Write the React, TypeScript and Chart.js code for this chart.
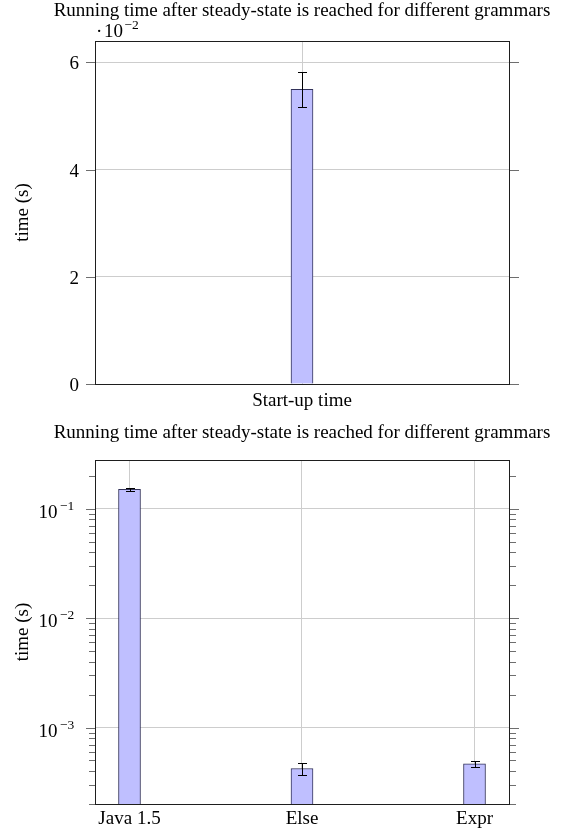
import React, { useEffect, useRef } from 'react';
import { Chart, registerables } from 'chart.js';

Chart.register(...registerables);

// ---------- text ----------
const TITLE = 'Running time after steady-state is reached for different grammars';
const Y_TITLE = 'time (s)';

// ---------- top chart: start-up time ----------
const startupCategories = ['Start-up time'];
const startupValues = [0.055];
const startupErrors = [0.0033];
const startupTicks = [0, 0.02, 0.04, 0.06];
const startupTickLabels = ['0', '2', '4', '6'];
const startupScaleBase = '10';
const startupScaleExp = '\u22122';
const startupYMin = 0;
const startupYMax = 0.064;

// ---------- bottom chart: steady-state per grammar ----------
const grammarCategories = ['Java 1.5', 'Else', 'Expr'];
const grammarValues = [0.151, 0.000422, 0.000466];
const grammarErrors = [0.004, 0.000055, 0.000031];
const grammarMajorTicks = [0.1, 0.01, 0.001];
const grammarTickExponents = ['\u22121', '\u22122', '\u22123'];
const grammarYMin = 0.0002;
const grammarYMax = 0.28;
const grammarXMin = -0.2;
const grammarXMax = 2.2;

// ---------- styles ----------
const FONT = '"Liberation Serif", "Times New Roman", serif';
const BAR_FILL = 'rgb(191,191,255)';
const BAR_BORDER = 'rgb(50,50,90)';
const GRID = 'rgb(205,205,205)';
const AXIS = 'rgb(30,30,30)';
const TICK = 'rgb(110,110,110)';

const px = (v: number) => Math.round(v) + 0.5;

function logMinorTicks(min: number, max: number): number[] {
  const out: number[] = [];
  for (let e = -5; e <= 1; e++) {
    for (let m = 1; m <= 9; m++) {
      const v = m * Math.pow(10, e);
      if (v >= min * 0.9999 && v <= max * 1.0001) out.push(v);
    }
  }
  return out;
}

const isDecade = (v: number) => Math.abs(Math.log10(v) - Math.round(Math.log10(v))) < 1e-9;

function drawFrame(chart: any) {
  const { ctx, chartArea: a } = chart;
  ctx.save();
  ctx.strokeStyle = AXIS;
  ctx.lineWidth = 1;
  const l = Math.round(a.left), r = Math.round(a.right), t = Math.round(a.top), b = Math.round(a.bottom);
  ctx.strokeRect(l + 0.5, t + 0.5, r - l, b - t);
  ctx.restore();
}

function drawYTicks(chart: any, lenFor: (v: number) => number) {
  const { ctx, chartArea: a } = chart;
  const ys = chart.scales.y;
  const l = Math.round(a.left), r = Math.round(a.right) + 1;
  ctx.save();
  ctx.strokeStyle = TICK;
  ctx.lineWidth = 1;
  ctx.beginPath();
  ys.ticks.forEach((t: any) => {
    const y = px(ys.getPixelForValue(t.value));
    const L = lenFor(t.value);
    ctx.moveTo(l - L, y);
    ctx.lineTo(l, y);
    ctx.moveTo(r, y);
    ctx.lineTo(r + L, y);
  });
  ctx.stroke();
  ctx.restore();
}

function drawErrorBars(chart: any, values: number[], errors: number[]) {
  const { ctx } = chart;
  const ys = chart.scales.y;
  const meta = chart.getDatasetMeta(0);
  ctx.save();
  ctx.strokeStyle = '#000';
  ctx.lineWidth = 1;
  ctx.beginPath();
  meta.data.forEach((bar: any, i: number) => {
    const x = px(bar.x);
    const yt = px(ys.getPixelForValue(values[i] + errors[i]));
    const yb = px(ys.getPixelForValue(values[i] - errors[i]));
    ctx.moveTo(x, yt);
    ctx.lineTo(x, yb);
    ctx.moveTo(x - 4.5, yt);
    ctx.lineTo(x + 4.5, yt);
    ctx.moveTo(x - 4.5, yb);
    ctx.lineTo(x + 4.5, yb);
  });
  ctx.stroke();
  ctx.restore();
}

function drawCommonText(chart: any, titleY: number, xLabelY: number, labels: string[]) {
  const { ctx, chartArea: a } = chart;
  const xs = chart.scales.x;
  ctx.save();
  ctx.fillStyle = '#000';
  ctx.font = `19px ${FONT}`;
  ctx.textBaseline = 'alphabetic';
  ctx.textAlign = 'center';
  ctx.fillText(TITLE, (a.left + a.right) / 2, titleY);
  labels.forEach((lab, i) => {
    ctx.fillText(lab, xs.getPixelForTick(i), xLabelY);
  });
  ctx.translate(28, (a.top + a.bottom) / 2);
  ctx.rotate(-Math.PI / 2);
  ctx.fillText(Y_TITLE, 0, 0);
  ctx.restore();
}

const startupDecor = {
  id: 'startupDecor',
  afterDraw(chart: any) {
    const { ctx } = chart;
    const ys = chart.scales.y;
    drawErrorBars(chart, startupValues, startupErrors);
    drawYTicks(chart, () => 9);
    drawFrame(chart);
    drawCommonText(chart, 16, 406, startupCategories);
    ctx.save();
    ctx.fillStyle = '#000';
    ctx.textBaseline = 'alphabetic';
    ctx.font = `19px ${FONT}`;
    ctx.textAlign = 'right';
    startupTicks.forEach((v, i) => {
      ctx.fillText(startupTickLabels[i], 79, Math.round(ys.getPixelForValue(v)) + 7);
    });
    ctx.textAlign = 'left';
    ctx.fillText('\u00B7', 96, 37);
    ctx.fillText(startupScaleBase, 104, 37);
    ctx.font = `13.5px ${FONT}`;
    ctx.fillText(startupScaleExp, 124.5, 29);
    ctx.restore();
  },
};

const grammarDecor = {
  id: 'grammarDecor',
  afterDraw(chart: any) {
    const { ctx } = chart;
    const ys = chart.scales.y;
    drawErrorBars(chart, grammarValues, grammarErrors);
    drawYTicks(chart, (v) => (isDecade(v) ? 9 : 6));
    drawFrame(chart);
    drawCommonText(chart, 23, 409, grammarCategories);
    ctx.save();
    ctx.fillStyle = '#000';
    ctx.textBaseline = 'alphabetic';
    grammarMajorTicks.forEach((v, i) => {
      const y = Math.round(ys.getPixelForValue(v));
      ctx.font = `19px ${FONT}`;
      ctx.textAlign = 'right';
      ctx.fillText('10', 57.5, y + 9);
      ctx.font = `13.5px ${FONT}`;
      ctx.textAlign = 'left';
      ctx.fillText(grammarTickExponents[i], 60, y + 1);
    });
    ctx.restore();
  },
};

function StartupChart() {
  const ref = useRef<HTMLCanvasElement | null>(null);
  useEffect(() => {
    if (!ref.current) return;
    const chart = new Chart(ref.current, {
      type: 'bar',
      data: {
        labels: startupCategories,
        datasets: [
          {
            data: startupValues,
            backgroundColor: BAR_FILL,
            borderColor: BAR_BORDER,
            borderWidth: 1,
            barThickness: 22,
          },
        ],
      },
      options: {
        animation: false,
        responsive: false,
        devicePixelRatio: 1,
        events: [],
        layout: { padding: { top: 41, right: 55, left: 0, bottom: 0 } },
        plugins: { legend: { display: false }, title: { display: false }, tooltip: { enabled: false } },
        scales: {
          x: {
            type: 'category',
            offset: true,
            grid: { color: GRID, drawTicks: false, offset: false, lineWidth: 1 },
            border: { display: false },
            ticks: { display: false },
            afterFit: (s: any) => {
              s.height = 31;
            },
          },
          y: {
            type: 'linear',
            min: startupYMin,
            max: startupYMax,
            bounds: 'data',
            afterBuildTicks: (s: any) => {
              s.ticks = startupTicks.map((v) => ({ value: v }));
            },
            grid: {
              color: (c: any) => (c.tick && c.tick.value === 0 ? 'rgba(0,0,0,0)' : GRID),
              drawTicks: false,
              lineWidth: 1,
            },
            border: { display: false },
            ticks: { display: false },
            afterFit: (s: any) => {
              s.width = 95;
            },
          },
        },
      } as any,
      plugins: [startupDecor],
    });
    return () => chart.destroy();
  }, []);
  return <canvas ref={ref} width={564} height={415} style={{ position: 'absolute', left: 0, top: 0, display: 'block' }} />;
}

function GrammarChart() {
  const ref = useRef<HTMLCanvasElement | null>(null);
  useEffect(() => {
    if (!ref.current) return;
    const yTicks = logMinorTicks(grammarYMin, grammarYMax);
    const chart = new Chart(ref.current, {
      type: 'bar',
      data: {
        datasets: [
          {
            data: grammarValues.map((v, i) => ({ x: i, y: v })),
            backgroundColor: BAR_FILL,
            borderColor: BAR_BORDER,
            borderWidth: 1,
            barThickness: 22,
          },
        ],
      },
      options: {
        animation: false,
        responsive: false,
        devicePixelRatio: 1,
        events: [],
        layout: { padding: { top: 45, right: 55, left: 0, bottom: 0 } },
        plugins: { legend: { display: false }, title: { display: false }, tooltip: { enabled: false } },
        scales: {
          x: {
            type: 'linear',
            min: grammarXMin,
            max: grammarXMax,
            bounds: 'data',
            offset: false,
            afterBuildTicks: (s: any) => {
              s.ticks = grammarCategories.map((_, i) => ({ value: i }));
            },
            grid: { color: GRID, drawTicks: false, offset: false, lineWidth: 1 },
            border: { display: false },
            ticks: { display: false },
            afterFit: (s: any) => {
              s.height = 26;
            },
          },
          y: {
            type: 'logarithmic',
            min: grammarYMin,
            max: grammarYMax,
            bounds: 'data',
            afterBuildTicks: (s: any) => {
              s.ticks = yTicks.map((v) => ({ value: v, major: isDecade(v) }));
            },
            grid: {
              color: (c: any) => (c.tick && isDecade(c.tick.value) ? GRID : 'rgba(0,0,0,0)'),
              drawTicks: false,
              lineWidth: 1,
            },
            border: { display: false },
            ticks: { display: false },
            afterFit: (s: any) => {
              s.width = 95;
            },
          },
        },
      } as any,
      plugins: [grammarDecor],
    });
    return () => chart.destroy();
  }, []);
  return <canvas ref={ref} width={564} height={415} style={{ position: 'absolute', left: 0, top: 415, display: 'block' }} />;
}

export default function App() {
  return (
    <div style={{ position: 'absolute', left: 0, top: 0, width: 564, height: 830, background: '#fff' }}>
      <StartupChart />
      <GrammarChart />
    </div>
  );
}
